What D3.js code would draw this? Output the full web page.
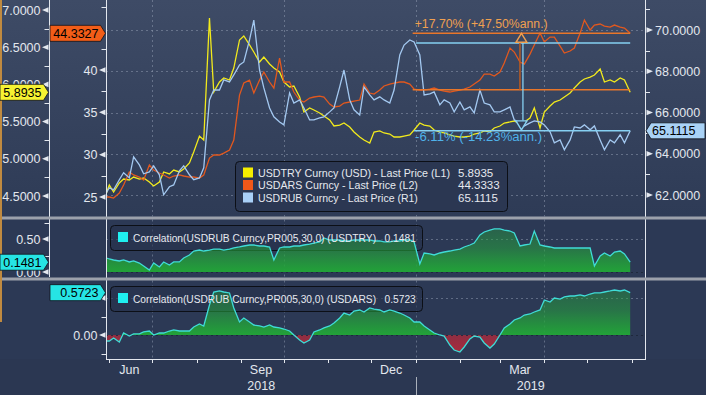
<!DOCTYPE html>
<html><head><meta charset="utf-8">
<script src="https://cdn.jsdelivr.net/npm/d3@7/dist/d3.min.js"></script>
<style>
html,body{margin:0;padding:0;background:#2b3752;overflow:hidden}
svg{display:block}
text{font-family:"Liberation Sans",Arial,sans-serif}
</style></head><body>
<svg id="chart" width="706" height="395"></svg>
<script>
// ---------------- DATA ----------------
const dates = ["2018-05-30","2018-06-01","2018-06-04","2018-06-08","2018-06-11","2018-06-15","2018-06-18","2018-06-22","2018-06-25","2018-06-29",
"2018-07-02","2018-07-06","2018-07-09","2018-07-13","2018-07-16","2018-07-20","2018-07-23","2018-07-27","2018-07-30","2018-08-03",
"2018-08-06","2018-08-10","2018-08-13","2018-08-17","2018-08-20","2018-08-24","2018-08-27","2018-08-31","2018-09-03","2018-09-07",
"2018-09-10","2018-09-14","2018-09-17","2018-09-21","2018-09-24","2018-09-28","2018-10-01","2018-10-05","2018-10-08","2018-10-12",
"2018-10-15","2018-10-19","2018-10-22","2018-10-26","2018-10-29","2018-11-02","2018-11-05","2018-11-09","2018-11-12","2018-11-16",
"2018-11-19","2018-11-23","2018-11-26","2018-11-30","2018-12-03","2018-12-07","2018-12-10","2018-12-14","2018-12-17","2018-12-21",
"2018-12-24","2018-12-28","2018-12-31","2019-01-04","2019-01-07","2019-01-11","2019-01-14","2019-01-18","2019-01-21","2019-01-25",
"2019-01-28","2019-02-01","2019-02-04","2019-02-08","2019-02-11","2019-02-15","2019-02-18","2019-02-22","2019-02-25","2019-03-01",
"2019-03-04","2019-03-08","2019-03-11","2019-03-15","2019-03-18","2019-03-22","2019-03-25","2019-03-29","2019-04-01","2019-04-05",
"2019-04-08","2019-04-12","2019-04-15","2019-04-19","2019-04-22","2019-04-26","2019-04-29","2019-05-03","2019-05-06","2019-05-10",
"2019-05-13","2019-05-17","2019-05-20","2019-05-24","2019-05-27","2019-05-31"];

const usdtry = [4.540,4.648,4.554,4.675,4.728,4.715,4.755,4.728,4.742,4.688,
4.634,4.688,4.823,4.796,4.849,4.823,4.863,4.944,5.091,5.306,
5.253,6.892,5.898,6.032,6.086,6.059,6.220,6.597,6.651,6.530,
6.435,6.301,6.368,6.274,6.220,6.167,6.032,5.965,5.978,5.831,
5.629,5.683,5.656,5.616,5.575,5.522,5.441,5.454,5.481,5.427,
5.360,5.293,5.253,5.212,5.360,5.374,5.347,5.333,5.293,5.293,
5.306,5.320,5.387,5.481,5.454,5.441,5.387,5.360,5.347,5.320,
5.306,5.293,5.293,5.306,5.333,5.347,5.374,5.360,5.414,5.441,
5.481,5.495,5.508,5.468,5.495,5.548,5.683,5.414,5.629,5.710,
5.763,5.790,5.831,5.884,5.952,6.032,6.073,6.099,6.126,6.207,
6.032,6.059,6.032,6.086,6.059,5.8935];

const usdars = [25.00,25.00,24.88,25.47,26.42,27.95,27.60,27.36,27.01,28.78,
28.19,27.83,27.60,27.24,27.48,27.60,27.48,27.36,27.36,27.24,
27.60,29.60,29.96,29.96,30.19,30.55,31.73,37.04,38.46,38.81,
37.28,38.81,39.76,38.58,37.87,41.41,38.58,38.58,37.40,36.45,
36.22,36.69,36.81,36.92,36.81,35.98,35.63,35.74,36.10,36.22,
36.33,36.45,38.34,37.28,37.16,37.63,38.11,38.34,38.46,38.58,
38.58,38.34,37.75,37.63,37.63,37.75,37.87,37.63,37.51,37.40,
37.51,37.63,37.75,37.99,38.34,38.81,39.52,39.52,39.29,39.76,
40.82,42.59,42.12,40.94,40.70,41.88,42.95,44.36,43.30,43.89,
43.89,42.83,42.00,42.24,42.59,44.36,45.90,44.72,45.31,45.43,
45.19,45.07,45.31,45.07,44.95,44.3327];

const usdrub = [62.11,62.35,62.25,62.74,63.08,62.83,63.85,63.46,63.03,63.12,
63.41,62.98,62.01,62.40,62.49,63.17,63.41,62.98,62.74,62.83,
63.32,66.61,67.09,67.09,67.58,67.48,67.82,68.31,68.45,69.52,
70.48,68.06,67.19,66.22,65.79,65.54,65.40,66.95,66.46,66.61,
66.22,65.64,65.64,65.74,65.79,66.03,66.22,67.24,68.06,66.61,
66.13,65.88,67.24,66.85,66.61,66.76,66.61,66.46,67.09,68.79,
69.27,69.52,69.42,68.79,66.85,66.90,67.00,66.37,66.61,66.46,
66.03,66.51,66.13,66.27,65.98,67.09,66.46,66.37,66.03,66.03,
66.13,66.27,65.64,65.50,65.35,65.50,65.59,65.54,65.40,65.06,
64.53,64.67,64.19,64.67,65.30,65.25,65.40,65.16,65.35,64.67,
64.19,64.67,64.53,64.92,64.53,65.1115];

const corrTry = [0.212,0.197,0.182,0.167,0.182,0.152,0.167,0.136,0.091,0.030,
0.136,0.076,0.152,0.106,0.152,0.152,0.212,0.258,0.318,0.333,
0.318,0.333,0.348,0.348,0.333,0.348,0.364,0.379,0.394,0.409,
0.409,0.394,0.394,0.379,0.182,0.364,0.379,0.379,0.394,0.394,
0.409,0.424,0.439,0.455,0.515,0.485,0.485,0.485,0.470,0.470,
0.485,0.485,0.485,0.485,0.470,0.470,0.455,0.455,0.470,0.470,
0.485,0.485,0.455,0.121,0.288,0.273,0.258,0.288,0.303,0.318,
0.333,0.348,0.379,0.409,0.439,0.561,0.606,0.636,0.652,0.652,
0.636,0.621,0.591,0.394,0.409,0.424,0.621,0.409,0.394,0.379,
0.364,0.364,0.364,0.364,0.364,0.364,0.364,0.364,0.091,0.242,
0.288,0.242,0.303,0.318,0.273,0.1481];

const corrArs = [-0.081,-0.081,-0.041,-0.095,0.027,-0.014,0.014,0.014,0.041,0.054,
0.000,0.027,0.027,0.054,0.068,0.054,0.054,0.054,0.108,0.149,
0.122,0.405,0.581,0.595,0.581,0.568,0.365,0.176,0.230,0.176,
0.135,0.122,0.108,0.135,0.108,0.095,0.081,0.054,0.000,-0.068,
-0.108,-0.068,0.041,0.068,0.095,0.122,0.162,0.230,0.297,0.270,
0.324,0.338,0.311,0.365,0.351,0.338,0.311,0.338,0.324,0.297,
0.270,0.230,0.176,0.176,0.122,0.068,0.027,0.000,-0.014,-0.135,
-0.203,-0.230,-0.162,-0.054,-0.014,-0.027,-0.108,-0.176,-0.122,0.000,
0.095,0.149,0.203,0.230,0.270,0.284,0.311,0.338,0.473,0.446,
0.500,0.486,0.514,0.527,0.527,0.541,0.527,0.554,0.568,0.568,
0.581,0.595,0.608,0.595,0.608,0.5723];

const l1Ticks = [4.5,5,5.5,6,6.5,7];
const l1Minor = [4.75,5.25,5.75,6.25,6.75];
const l2Ticks = [25,30,35,40];
const l2Minor = [27.5,32.5,37.5,42.5,47.5];
const r1Ticks = [62,64,66,68,70];
const r1Minor = [63,65,67,69,71];
const c1Ticks = [0,0.5];
const c1Minor = [0.25,0.75];
const c2Ticks = [0];          // the 0.50 label sits fully under the value tag
const c2Hidden = [0.5];
const c2Minor = [0.25,-0.25];
const gridDates = ["2018-07-01","2018-10-01","2019-01-01","2019-04-01"];
const monthLabels = ["Jun","Sep","Dec","Mar"];
const monthLabelDates = ["2018-06-15","2018-09-15","2018-12-15","2019-03-15"];
const yearLabels = ["2018","2019"];
const legendNames = ["USDTRY Curncy (USD) - Last Price (L1)","USDARS Curncy - Last Price (L2)","USDRUB Curncy - Last Price (R1)"];
const legendValues = ["5.8935","44.3333","65.1115"];
const corrNames = ["Correlation(USDRUB Curncy,PR005,30,0) (USDTRY)","Correlation(USDRUB Curncy,PR005,30,0) (USDARS)"];
const corrValues = ["0.1481","0.5723"];
const annArs = [37.67, 44.3327];
const annRub = [69.37, 65.1115];
const annTexts = ["+17.70% (+47.50%ann.)","-6.11% (-14.23%ann.)"];
const annDates = ["2018-12-30","2018-12-31","2019-05-31","2019-03-16"];

// ---------------- CHART ----------------
const svg = d3.select("#chart");
const defs = svg.append("defs");
const P = d3.timeParse("%Y-%m-%d");
const D = dates.map(P);

const x = d3.scaleTime().domain([P("2018-05-29"), P("2019-06-10")]).range([105, 644.5]);
const yL1 = d3.scaleLinear().domain([4.5, 7]).range([196, 10]);
const yL2 = d3.scaleLinear().domain([25, 40]).range([197, 70]);
const yR1 = d3.scaleLinear().domain([62, 70]).range([195, 30]);
const yC1 = d3.scaleLinear().domain([0, 0.5]).range([272, 239]);
const yC2 = d3.scaleLinear().domain([0, 0.5]).range([335, 298]);

const MAIN = [0, 216.5], P2 = [219.5, 277.5], P3 = [280.5, 359];
const PL = 106, PR = 645;

// fit a text to a target width by adjusting its font size (no stretching)
function fitText(sel, width, base){
  sel.attr("font-size", base + "px");
  const w = sel.node().getComputedTextLength();
  if (w > 0) sel.attr("font-size", (base * width / w).toFixed(2) + "px");
  return sel;
}

// backgrounds
const bgG = defs.append("linearGradient").attr("id","bgMain").attr("x1",0).attr("y1",0).attr("x2",0).attr("y2",1);
bgG.append("stop").attr("offset","0%").attr("stop-color","#3e4b66");
bgG.append("stop").attr("offset","100%").attr("stop-color","#2e3b56");
svg.append("rect").attr("width",706).attr("height",395).attr("fill","#2b3752");
svg.append("rect").attr("width",706).attr("height",217).attr("fill","url(#bgMain)");
svg.append("rect").attr("y",219).attr("width",706).attr("height",140).attr("fill","#2c3955");

function clip(id, y0, y1, x0=PL, x1=PR){
  defs.append("clipPath").attr("id",id).append("rect").attr("x",x0).attr("y",y0).attr("width",x1-x0).attr("height",y1-y0);
}
clip("cMain", MAIN[0], MAIN[1]);
clip("cP2up", P2[0], yC1(0)); clip("cP2dn", yC1(0), P2[1]);
clip("cP3up", P3[0], yC2(0)); clip("cP3dn", yC2(0), P3[1]);

const grid = svg.append("g");
const gridStyle = s => s.attr("stroke","#8c97ad").attr("stroke-opacity",0.55).attr("stroke-width",1).attr("stroke-dasharray","2,3");

r1Ticks.forEach(v => gridStyle(grid.append("line").attr("x1",PL).attr("x2",PR).attr("y1",Math.round(yR1(v))+0.5).attr("y2",Math.round(yR1(v))+0.5)));
[MAIN, P2, P3].forEach(p => gridDates.forEach(d => {
  const xx = Math.round(x(P(d)))+0.5;
  gridStyle(grid.append("line").attr("x1",xx).attr("x2",xx).attr("y1",p[0]).attr("y2",p[1]));
}));
gridStyle(grid.append("line").attr("x1",PL).attr("x2",PR).attr("y1",Math.round(yC1(0.5))+0.5).attr("y2",Math.round(yC1(0.5))+0.5));
gridStyle(grid.append("line").attr("x1",PL).attr("x2",PR).attr("y1",Math.round(yC2(0.5))+0.5).attr("y2",Math.round(yC2(0.5))+0.5));

// ---- main series
const gMain = svg.append("g").attr("clip-path","url(#cMain)");
const mkLine = y => d3.line().x((d,i)=>x(D[i])).y(d=>y(d));
gMain.append("path").attr("d", mkLine(yL1)(usdtry)).attr("fill","none").attr("stroke","#f2ea1c").attr("stroke-width",1.3);
gMain.append("path").attr("d", mkLine(yL2)(usdars)).attr("fill","none").attr("stroke","#e2581e").attr("stroke-width",1.3);
gMain.append("path").attr("d", mkLine(yR1)(usdrub)).attr("fill","none").attr("stroke","#a3c8f0").attr("stroke-width",1.3);

// ---- annotations
const ann = svg.append("g");
const xa0 = x(P(annDates[0])), xb0 = x(P(annDates[1])), xe = x(P(annDates[2])), xm = x(P(annDates[3]));
const oTop = yL2(annArs[1]), oBot = yL2(annArs[0]);
const bTop = yR1(annRub[0]), bBot = yR1(annRub[1]);
ann.append("line").attr("x1",xa0).attr("x2",xe).attr("y1",oTop).attr("y2",oTop).attr("stroke","#e8762a").attr("stroke-width",1.6);
ann.append("line").attr("x1",xa0).attr("x2",xe).attr("y1",oBot).attr("y2",oBot).attr("stroke","#e8762a").attr("stroke-width",1.6);
ann.append("line").attr("x1",xb0+2).attr("x2",xe).attr("y1",bTop).attr("y2",bTop).attr("stroke","#86d0f2").attr("stroke-width",1.5);
ann.append("line").attr("x1",xb0).attr("x2",xe).attr("y1",bBot).attr("y2",bBot).attr("stroke","#86d0f2").attr("stroke-width",1.5);
ann.append("line").attr("x1",xm-1.5).attr("x2",xm-1.5).attr("y1",oTop+9).attr("y2",oBot).attr("stroke","#b85a22").attr("stroke-width",1.5);
ann.append("line").attr("x1",xm+1.5).attr("x2",xm+1.5).attr("y1",bTop).attr("y2",bBot-10).attr("stroke","#86d0f2").attr("stroke-width",1.3);
ann.append("path").attr("d",`M${xm},${oTop}L${xm-5.5},${oTop+9}L${xm+5.5},${oTop+9}Z`).attr("fill","#3a4762").attr("stroke","#f0a050").attr("stroke-width",1.4);
ann.append("path").attr("d",`M${xm-5.5},${bBot-10}L${xm+5.5},${bBot-10}L${xm},${bBot-1}Z`).attr("fill","#33405b").attr("stroke","#86d0f2").attr("stroke-width",1.4);
fitText(ann.append("text").attr("x",xa0+2).attr("y",oTop-5).attr("fill","#f0a050").text(annTexts[0]), 133, 12.5);
fitText(ann.append("text").attr("x",xb0+1).attr("y",bBot+10.5).attr("fill","#4fb2ea").text(annTexts[1]), 127, 12.5);

// ---- main legend
const lg = svg.append("g");
lg.append("rect").attr("x",235.5).attr("y",161.5).attr("width",272).attr("height",50).attr("rx",4)
  .attr("fill","#2b3752").attr("stroke","#0c0f16").attr("stroke-width",1);
const lgColors = ["#f5ee00","#f0581a","#a9d0f8"];
const lgW = [192,160,160];
legendNames.forEach((n,i) => {
  const yy = 172.5 + i*12.5;
  lg.append("rect").attr("x",243).attr("y",yy-5).attr("width",10).attr("height",10).attr("fill",lgColors[i]);
  fitText(lg.append("text").attr("x",258).attr("y",yy+4).attr("fill","#e6e9ef").text(n), lgW[i], 11.5);
  lg.append("text").attr("x",458).attr("y",yy+4).attr("font-size","11.5px").attr("fill","#e6e9ef").text(legendValues[i]);
});

// ---- correlation panels
function corrPanel(vals, y, pr, idx, upClip, dnClip){
  const zero = y(0);
  const gGreen = defs.append("linearGradient").attr("id","gg"+idx).attr("gradientUnits","userSpaceOnUse")
    .attr("x1",0).attr("x2",0).attr("y1",pr[0]).attr("y2",zero);
  gGreen.append("stop").attr("offset","0%").attr("stop-color","#25a53c").attr("stop-opacity",0.3);
  gGreen.append("stop").attr("offset","55%").attr("stop-color","#25a53c").attr("stop-opacity",0.55);
  gGreen.append("stop").attr("offset","100%").attr("stop-color","#22a238").attr("stop-opacity",1);
  const gRed = defs.append("linearGradient").attr("id","gr"+idx).attr("gradientUnits","userSpaceOnUse")
    .attr("x1",0).attr("x2",0).attr("y1",zero).attr("y2",pr[1]);
  gRed.append("stop").attr("offset","0%").attr("stop-color","#b02a3c").attr("stop-opacity",0.75);
  gRed.append("stop").attr("offset","100%").attr("stop-color","#b02a3c").attr("stop-opacity",1);
  const ly = idx===1 ? 225.5 : 286.5;
  svg.append("rect").attr("x",110.5).attr("y",ly).attr("width",312).attr("height",25).attr("rx",4)
    .attr("fill","#26324b").attr("fill-opacity",0.6).attr("stroke","#0c0f16").attr("stroke-width",1);
  const area = d3.area().x((d,i)=>x(D[i])).y0(zero).y1(d=>y(d));
  svg.append("path").attr("d",area(vals)).attr("fill",`url(#gg${idx})`).attr("clip-path",`url(#${upClip})`);
  svg.append("path").attr("d",area(vals)).attr("fill",`url(#gr${idx})`).attr("clip-path",`url(#${dnClip})`);
  svg.append("line").attr("x1",PL).attr("x2",PR).attr("y1",Math.round(zero)+0.5).attr("y2",Math.round(zero)+0.5)
    .attr("stroke","#1c2536").attr("stroke-opacity",0.8).attr("stroke-dasharray","2,3");
  svg.append("path").attr("d",mkLine(y)(vals)).attr("fill","none").attr("stroke","#3fdcd6").attr("stroke-width",1.3);
  svg.append("rect").attr("x",118).attr("y",ly+6.5).attr("width",10).attr("height",10).attr("fill","#1ff0f0");
  fitText(svg.append("text").attr("x",133).attr("y",ly+16.5).attr("fill","#e6e9ef")
    .text(corrNames[idx-1] + "\u00a0\u00a0\u00a0" + corrValues[idx-1]), 283, 11.5);
}
corrPanel(corrTry, yC1, P2, 1, "cP2up", "cP2dn");
corrPanel(corrArs, yC2, P3, 2, "cP3up", "cP3dn");

// ---- frame lines / separators
const axC = "#e3e7ee";
const fr = svg.append("g");
fr.append("line").attr("x1",49.5).attr("x2",49.5).attr("y1",0).attr("y2",277).attr("stroke",axC);
fr.append("line").attr("x1",PL+0.5).attr("x2",PL+0.5).attr("y1",0).attr("y2",359.5).attr("stroke",axC);
fr.append("line").attr("x1",PR+0.5).attr("x2",PR+0.5).attr("y1",0).attr("y2",359.5).attr("stroke",axC);
fr.append("line").attr("x1",PL).attr("x2",PR+1).attr("y1",359.5).attr("y2",359.5).attr("stroke",axC);
fr.append("rect").attr("x",0).attr("y",216.5).attr("width",706).attr("height",3).attr("fill","#9ca1ab");
fr.append("rect").attr("x",0).attr("y",277.5).attr("width",706).attr("height",3).attr("fill","#9ca1ab");
fr.append("rect").attr("x",0).attr("y",0).attr("width",2).attr("height",322).attr("fill","#c08a40");

// ---- axes ticks
const tk = svg.append("g").attr("font-size","12.5px").attr("fill","#e3e7ee");
function tri(ax, yy){
  tk.append("path").attr("d",`M${ax-1},${yy-2.8}L${ax-1},${yy+2.8}L${ax-7.5},${yy}Z`).attr("fill",axC);
}
function leftAxis(ax, scale, ticks, minor, fmt){
  ticks.forEach(v => {
    const yy = scale(v);
    tri(ax, yy);
    tk.append("text").attr("x",ax-9).attr("y",yy).attr("dy","0.36em").attr("text-anchor","end").text(fmt(v));
  });
  minor.forEach(v => {
    const yy = Math.round(scale(v))+0.5;
    tk.append("line").attr("x1",ax-5).attr("x2",ax).attr("y1",yy).attr("y2",yy).attr("stroke",axC);
  });
}
leftAxis(49.5, yL1, l1Ticks, l1Minor, d3.format(".4f"));
leftAxis(PL+0.5, yL2, l2Ticks, l2Minor, d3.format("d"));
leftAxis(49.5, yC1, c1Ticks, c1Minor, d3.format(".2f"));
leftAxis(PL+0.5, yC2, c2Ticks, c2Minor, d3.format(".2f"));
c2Hidden.forEach(v => tri(PL+0.5, yC2(v)));
r1Ticks.forEach(v => {
  const yy = yR1(v);
  tk.append("path").attr("d",`M${PR+1.5},${yy-2.8}L${PR+1.5},${yy+2.8}L${PR+8},${yy}Z`).attr("fill",axC);
  tk.append("text").attr("x",PR+10).attr("y",yy).attr("dy","0.36em").text(d3.format(".4f")(v));
});
r1Minor.forEach(v => {
  const yy = Math.round(yR1(v))+0.5;
  tk.append("line").attr("x1",PR).attr("x2",PR+5).attr("y1",yy).attr("y2",yy).attr("stroke",axC);
});

// x axis
d3.timeMonths(P("2018-06-01"), P("2019-06-02")).forEach(d => {
  const xx = Math.round(x(d))+0.5;
  tk.append("line").attr("x1",xx).attr("x2",xx).attr("y1",359).attr("y2",363).attr("stroke",axC);
});
monthLabels.forEach((m,i) => tk.append("text").attr("x",x(P(monthLabelDates[i]))).attr("y",374).attr("text-anchor","middle").text(m));
const jan = Math.round(x(P("2019-01-01")))+0.5;
tk.append("line").attr("x1",jan).attr("x2",jan).attr("y1",377).attr("y2",395).attr("stroke","#aab0bb");
tk.append("text").attr("x",(PL+jan)/2).attr("y",390).attr("text-anchor","middle").text(yearLabels[0]);
tk.append("text").attr("x",(jan+PR)/2).attr("y",390).attr("text-anchor","middle").text(yearLabels[1]);

// ---- value tags
const tags = svg.append("g").attr("font-size","12.5px");
function tagR(x0, tip, yc, fill, txt){
  const h=16, a=5;
  tags.append("path").attr("d",`M${x0},${yc-h/2}H${tip-a}L${tip},${yc}L${tip-a},${yc+h/2}H${x0}Z`)
    .attr("fill",fill).attr("stroke","#10131a").attr("stroke-width",0.8);
  tags.append("text").attr("x",tip-7).attr("y",yc).attr("dy","0.36em").attr("text-anchor","end").attr("fill","#000").text(txt);
}
function tagL(tip, x1, yc, fill, txt){
  const h=16, a=5;
  tags.append("path").attr("d",`M${x1},${yc-h/2}H${tip+a}L${tip},${yc}L${tip+a},${yc+h/2}H${x1}Z`)
    .attr("fill",fill).attr("stroke","#10131a").attr("stroke-width",0.8);
  tags.append("text").attr("x",tip+6).attr("y",yc).attr("dy","0.36em").attr("fill","#000").text(txt);
}
tagR(0, 48.5, yL1(usdtry[usdtry.length-1]), "#f6f232", d3.format(".4f")(usdtry[usdtry.length-1]));
tagR(50, 105.5, yL2(usdars[usdars.length-1]), "#f25d18", d3.format(".4f")(usdars[usdars.length-1]));
tagL(646, 705, yR1(usdrub[usdrub.length-1]), "#a9d2f6", d3.format(".4f")(usdrub[usdrub.length-1]));
tagR(0, 48.5, yC1(corrTry[corrTry.length-1]), "#26e4e4", d3.format(".4f")(corrTry[corrTry.length-1]));
tagR(50, 105.5, yC2(corrArs[corrArs.length-1]), "#26e4e4", d3.format(".4f")(corrArs[corrArs.length-1]));
</script>
</body></html>
